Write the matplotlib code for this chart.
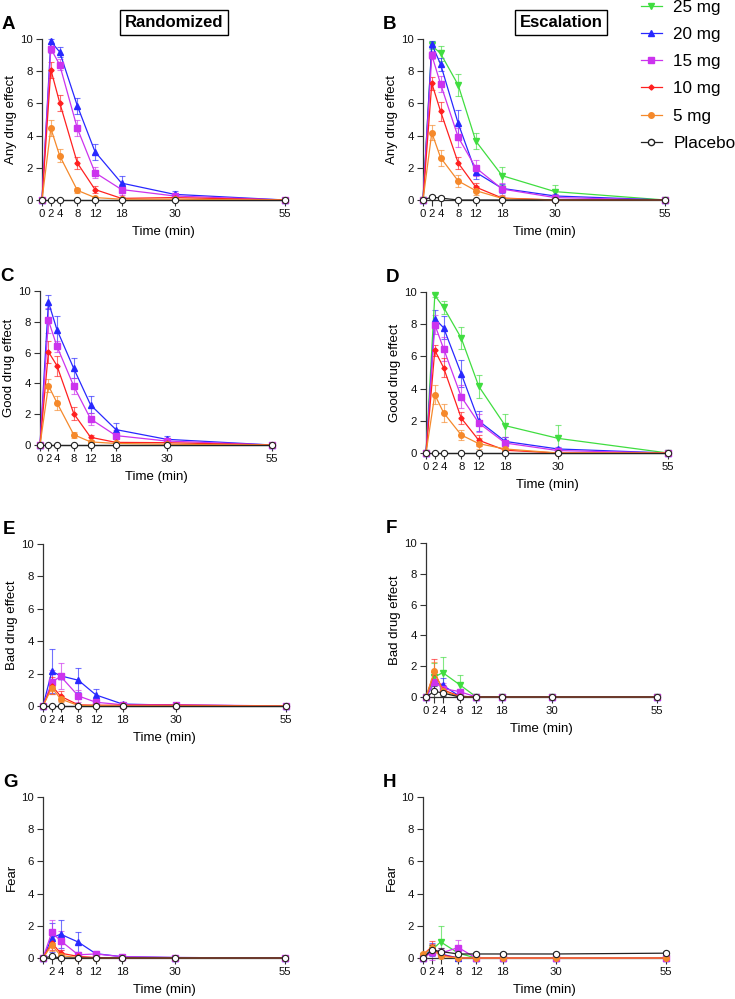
import matplotlib.pyplot as plt
from matplotlib.lines import Line2D

plt.rcParams['font.family'] = ['Liberation Sans', 'DejaVu Sans']

times = [0, 2, 4, 8, 12, 18, 30, 55]
xtick_labels = ["0", "2", "4", "8", "12", "18", "30", "55"]

doses = ["25 mg", "20 mg", "15 mg", "10 mg", "5 mg", "Placebo"]
colors = ["#40dd40", "#2828ff", "#cc33ee", "#ff2020", "#f5892b", "#222222"]
markers = ["v", "^", "s", "D", "o", "o"]
msizes = [4, 4, 3.8, 2.6, 4, 4.5]

# Randomized arm: rows are 20, 15, 10, 5 mg, placebo
rand_doses = ["20 mg", "15 mg", "10 mg", "5 mg", "Placebo"]
# Escalation arm: rows are 25, 20, 15, 10, 5 mg, placebo
esc_doses = ["25 mg", "20 mg", "15 mg", "10 mg", "5 mg", "Placebo"]

any_rand = [
    [0, 9.85, 9.2, 5.85, 3.0, 1.05, 0.35, 0],
    [0, 9.4, 8.4, 4.45, 1.7, 0.65, 0.25, 0],
    [0, 8.1, 6.05, 2.3, 0.65, 0.1, 0.15, 0],
    [0, 4.45, 2.75, 0.6, 0.15, 0.05, 0.05, 0],
    [0, 0, 0, 0, 0, 0, 0, 0],
]
any_rand_err = [
    [0, 0.15, 0.3, 0.5, 0.5, 0.45, 0.2, 0],
    [0, 0.3, 0.35, 0.5, 0.35, 0.35, 0.15, 0],
    [0, 0.5, 0.5, 0.4, 0.2, 0.1, 0.1, 0],
    [0, 0.5, 0.4, 0.15, 0.05, 0.02, 0.02, 0],
    [0, 0, 0, 0, 0, 0, 0, 0],
]
any_esc = [
    [0, 9.6, 9.1, 7.14, 3.66, 1.51, 0.52, 0],
    [0, 9.67, 8.43, 4.76, 1.72, 0.72, 0.25, 0],
    [0, 9.0, 7.2, 3.9, 2.0, 0.68, 0.15, 0],
    [0, 7.25, 5.5, 2.3, 0.8, 0.12, 0, 0],
    [0, 4.18, 2.63, 1.18, 0.58, 0.1, 0, 0],
    [0, 0.18, 0.12, 0, 0, 0, 0, 0],
]
any_esc_err = [
    [0, 0.25, 0.45, 0.7, 0.5, 0.55, 0.4, 0],
    [0, 0.2, 0.4, 0.8, 0.4, 0.3, 0.1, 0],
    [0, 0.25, 0.5, 0.6, 0.5, 0.4, 0.1, 0],
    [0, 0.4, 0.6, 0.35, 0.25, 0.05, 0, 0],
    [0, 0.45, 0.5, 0.35, 0.3, 0.05, 0, 0],
    [0, 0.15, 0.1, 0, 0, 0, 0, 0],
]

good_rand = [
    [0, 9.28, 7.5, 4.97, 2.6, 1.0, 0.37, 0],
    [0, 8.09, 6.42, 3.82, 1.69, 0.61, 0.26, 0],
    [0, 6.05, 5.16, 2.04, 0.5, 0.17, 0.15, 0],
    [0, 3.86, 2.75, 0.67, 0.2, 0.1, 0.05, 0],
    [0, 0, 0, 0, 0, 0, 0, 0],
]
good_rand_err = [
    [0, 0.45, 0.9, 0.65, 0.55, 0.4, 0.2, 0],
    [0, 0.8, 0.35, 0.5, 0.4, 0.35, 0.15, 0],
    [0, 0.7, 0.65, 0.4, 0.15, 0.05, 0.05, 0],
    [0, 0.45, 0.45, 0.2, 0.05, 0.02, 0.02, 0],
    [0, 0, 0, 0, 0, 0, 0, 0],
]
good_esc = [
    [0, 9.79, 9.05, 7.14, 4.14, 1.7, 0.91, 0],
    [0, 8.34, 7.78, 4.93, 1.99, 0.72, 0.25, 0],
    [0, 7.97, 6.48, 3.5, 1.86, 0.62, 0.15, 0],
    [0, 6.38, 5.3, 2.17, 0.79, 0.17, 0, 0],
    [0, 3.62, 2.5, 1.12, 0.58, 0.25, 0, 0],
    [0, 0, 0, 0, 0, 0, 0, 0],
]
good_esc_err = [
    [0, 0.1, 0.4, 0.7, 0.7, 0.7, 0.8, 0],
    [0, 0.55, 0.7, 0.85, 0.6, 0.3, 0.15, 0],
    [0, 0.6, 0.75, 0.7, 0.55, 0.4, 0.1, 0],
    [0, 0.35, 0.6, 0.35, 0.35, 0.05, 0, 0],
    [0, 0.6, 0.55, 0.3, 0.35, 0.15, 0, 0],
    [0, 0, 0, 0, 0, 0, 0, 0],
]

bad_rand = [
    [0, 2.14, 1.86, 1.59, 0.68, 0.12, 0.05, 0],
    [0, 1.48, 1.83, 0.62, 0.23, 0.08, 0.08, 0],
    [0, 1.26, 0.6, 0.07, 0.05, 0.05, 0.05, 0],
    [0, 1.13, 0.43, 0.03, 0.02, 0, 0, 0],
    [0, 0, 0, 0, 0, 0, 0, 0],
]
bad_rand_err = [
    [0, 1.35, 0.0, 0.75, 0.4, 0.05, 0, 0],
    [0, 0.75, 0.8, 0.35, 0.15, 0, 0, 0],
    [0, 0.5, 0.3, 0, 0, 0, 0, 0],
    [0, 0.4, 0.2, 0, 0, 0, 0, 0],
    [0, 0, 0, 0, 0, 0, 0, 0],
]
bad_esc = [
    [0, 1.3, 1.58, 0.8, 0, 0, 0, 0],
    [0, 0.95, 0.76, 0.05, 0, 0, 0, 0],
    [0, 1.0, 0.55, 0.35, 0, 0, 0, 0],
    [0, 1.6, 0.47, 0.05, 0, 0, 0, 0],
    [0, 1.67, 0.4, 0, 0, 0, 0, 0],
    [0, 0.37, 0.26, 0, 0, 0, 0, 0],
]
bad_esc_err = [
    [0, 0.9, 1.0, 0.6, 0, 0, 0, 0],
    [0, 0.5, 0.5, 0, 0, 0, 0, 0],
    [0, 0.6, 0.35, 0.2, 0, 0, 0, 0],
    [0, 0.85, 0.3, 0, 0, 0, 0, 0],
    [0, 0.6, 0.2, 0, 0, 0, 0, 0],
    [0, 0.35, 0.2, 0, 0, 0, 0, 0],
]

fear_rand = [
    [0, 1.25, 1.48, 0.99, 0.27, 0.08, 0.03, 0],
    [0, 1.59, 1.07, 0.2, 0.25, 0.08, 0.03, 0],
    [0, 0.95, 0.3, 0.1, 0.03, 0, 0, 0],
    [0, 0.8, 0.15, 0.03, 0, 0, 0, 0],
    [0, 0.1, 0, 0, 0, 0, 0, 0],
]
fear_rand_err = [
    [0, 0.9, 0.85, 0.6, 0.15, 0, 0, 0],
    [0, 0.8, 0.6, 0.1, 0.1, 0, 0, 0],
    [0, 0.45, 0.2, 0, 0, 0, 0, 0],
    [0, 0.35, 0.1, 0, 0, 0, 0, 0],
    [0, 0.1, 0, 0, 0, 0, 0, 0],
]
fear_esc = [
    [0.1, 0.5, 1.0, 0.3, 0, 0, 0, 0],
    [0, 0.55, 0.25, 0, 0, 0, 0, 0],
    [0, 0.35, 0.3, 0.65, 0, 0, 0, 0],
    [0.2, 0.7, 0.2, 0, 0, 0, 0, 0],
    [0.25, 0.6, 0.1, 0, 0, 0, 0, 0],
    [0, 0.5, 0.4, 0.25, 0.25, 0.25, 0.25, 0.3],
]
fear_esc_err = [
    [0, 0.3, 1.0, 0.2, 0, 0, 0, 0],
    [0, 0.4, 0.2, 0, 0, 0, 0, 0],
    [0, 0.5, 0.3, 0.45, 0, 0, 0, 0],
    [0, 0.35, 0.15, 0, 0, 0, 0, 0],
    [0, 0.3, 0.1, 0, 0, 0, 0, 0],
    [0, 0.3, 0.25, 0.2, 0.15, 0.15, 0.15, 0.15],
]

W, H = 735, 999
fig = plt.figure(figsize=(W / 100, H / 100), dpi=100)

# (letter, ylabel, means, errors, dose names, left, right, top, bottom) in pixels
panels = [
    ("A", "Any drug effect", any_rand, any_rand_err, rand_doses, 42, 285, 39, 200),
    ("B", "Any drug effect", any_esc, any_esc_err, esc_doses, 423, 665, 39, 200),
    ("C", "Good drug effect", good_rand, good_rand_err, rand_doses, 40, 272, 291, 445),
    ("D", "Good drug effect", good_esc, good_esc_err, esc_doses, 426, 668, 292, 453),
    ("E", "Bad drug effect", bad_rand, bad_rand_err, rand_doses, 43, 286, 544, 706),
    ("F", "Bad drug effect", bad_esc, bad_esc_err, esc_doses, 426, 657, 543, 697),
    ("G", "Fear", fear_rand, fear_rand_err, rand_doses, 43, 285, 797, 958),
    ("H", "Fear", fear_esc, fear_esc_err, esc_doses, 423, 666, 797, 958),
]

spine_col = "#333333"
legend_handles = []
for letter, ylab, means, errs, names, l, r, t, b in panels:
    ax = fig.add_axes([l / W, 1 - b / H, (r - l) / W, (b - t) / H])
    for name, m, e in zip(names, means, errs):
        i = doses.index(name)
        c = colors[i]
        ax.errorbar(times, m, yerr=e, fmt='none', ecolor=c, elinewidth=0.8,
                    capsize=2.2, capthick=0.8, alpha=0.65, clip_on=False, zorder=2 + i * 0.1)
        if name == "Placebo":
            ax.plot(times, m, color=c, lw=0.9, marker='o', ms=msizes[i],
                    mfc='white', mec=c, mew=0.8, clip_on=False, zorder=4)
        else:
            ax.plot(times, m, color=c, lw=0.9, marker=markers[i], ms=msizes[i],
                    mfc=c, mec=c, clip_on=False, zorder=3 + i * 0.1)
    ax.set_xlim(0, 55)
    ax.set_ylim(0, 10)
    ax.set_xticks(times)
    if letter == "G":
        ax.set_xticklabels([""] + xtick_labels[1:])
    else:
        ax.set_xticklabels(xtick_labels)
    ax.set_yticks([0, 2, 4, 6, 8, 10])
    for s in ["top", "right"]:
        ax.spines[s].set_visible(False)
    for s in ["left", "bottom"]:
        ax.spines[s].set_color(spine_col)
        ax.spines[s].set_linewidth(0.9)
    ax.tick_params(axis='both', length=4.5, width=0.8, color=spine_col,
                   labelsize=8.2, pad=2.2, labelcolor="#111111")
    ax.set_ylabel(ylab, fontsize=9.5, va='center')
    ax.yaxis.set_label_coords(-31 / (r - l), 0.5)
    ax.set_xlabel("Time (min)", fontsize=9.5, va='center')
    ax.xaxis.set_label_coords(0.5, -32 / (b - t))
    fig.text((l - 40) / W, 1 - (t - 14.5) / H, letter, fontsize=13.5, fontweight='bold',
             ha='left', va='center')

fig.text(174 / W, 1 - 22.5 / H, "Randomized", fontsize=12, fontweight='bold',
         ha='center', va='center',
         bbox=dict(boxstyle='square,pad=0.3', fc='white', ec='black', lw=1))
fig.text(561 / W, 1 - 22.5 / H, "Escalation", fontsize=12, fontweight='bold',
         ha='center', va='center',
         bbox=dict(boxstyle='square,pad=0.3', fc='white', ec='black', lw=1))

for i, name in enumerate(doses):
    if name == "Placebo":
        h = Line2D([], [], color=colors[i], lw=0.9, marker='o', ms=msizes[i],
                   mfc='white', mec=colors[i])
    else:
        h = Line2D([], [], color=colors[i], lw=0.9, marker=markers[i], ms=msizes[i],
                   mfc=colors[i], mec=colors[i])
    legend_handles.append(h)

fig.legend(legend_handles, doses, loc='upper left', bbox_to_anchor=(641 / W, 1 - 0 / H),
           frameon=False, fontsize=12.3, handlelength=1.2, handletextpad=0.7,
           labelspacing=0.71, borderpad=0, borderaxespad=0)

fig.savefig("out.png", dpi=100)
